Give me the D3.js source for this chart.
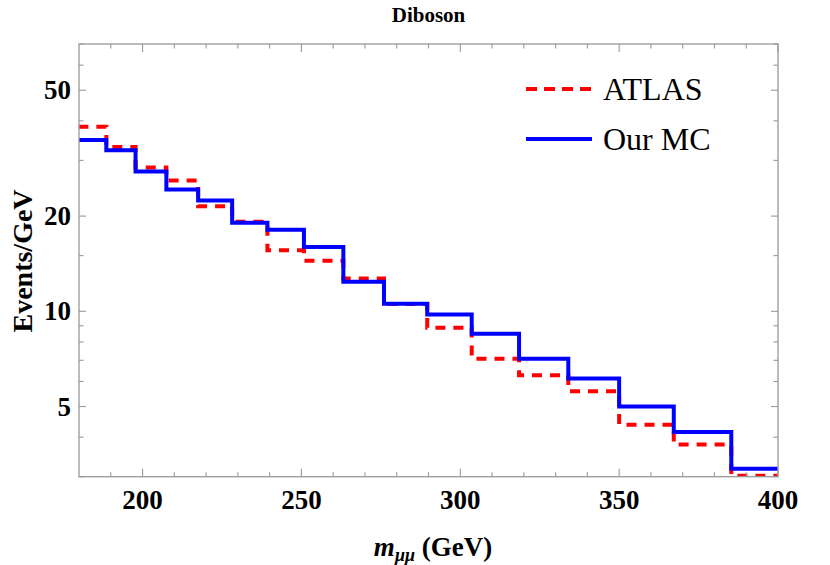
<!DOCTYPE html>
<html>
<head>
<meta charset="utf-8">
<script src="https://cdn.jsdelivr.net/npm/d3@7"></script>
<style>
  body { margin: 0; background: #fff; }
  text { font-family: "Liberation Serif", "Times New Roman", serif; }
</style>
</head>
<body>
<svg id="chart" width="830" height="565"></svg>
<script>
// bin edges (GeV) and contents (Events/GeV)
const binEdges = [179.8, 188.6, 197.8, 207.5, 217.5, 228.2, 239.3, 250.8, 263.2, 276.0, 289.6, 303.6, 318.5, 334.0, 350.0, 367.2, 385.3, 404.1];
const atlasValues = [38.3, 33.1, 28.5, 25.9, 21.5, 19.2, 15.6, 14.45, 12.7, 10.55, 8.87, 7.08, 6.28, 5.59, 4.38, 3.79, 3.02];
const mcValues = [34.8, 32.3, 27.65, 24.25, 22.4, 19.07, 18.1, 15.96, 12.4, 10.57, 9.77, 8.49, 7.08, 6.13, 5.0, 4.15, 3.18];

const xTicksMajor = [200, 250, 300, 350, 400];
const xTicksMinor = [190, 210, 220, 230, 240, 260, 270, 280, 290, 310, 320, 330, 340, 360, 370, 380, 390];
const yTicksMajor = [5, 10, 20, 50];
const yTicksMinor = [3, 4, 6, 7, 8, 9, 15, 30, 40, 60, 70];

const seriesNames = ['ATLAS', 'Our MC'];
const title = 'Diboson';

const svg = d3.select('#chart');
const frame = { left: 79, right: 778, top: 44, bottom: 476.7 };

const x = d3.scaleLinear().domain([180, 400]).range([frame.left, frame.right]);
const y = d3.scaleLog().domain([3, 70]).range([frame.bottom, frame.top]);

svg.append('defs').append('clipPath').attr('id', 'clip')
  .append('rect')
  .attr('x', frame.left).attr('y', frame.top)
  .attr('width', frame.right - frame.left).attr('height', frame.bottom - frame.top);

// step lines
function stepPoints(values) {
  const pts = values.map((v, i) => [binEdges[i], v]);
  pts.push([binEdges[values.length], values[values.length - 1]]);
  return pts;
}
const line = d3.line().x(d => x(d[0])).y(d => y(d[1])).curve(d3.curveStepAfter);

const plot = svg.append('g').attr('clip-path', 'url(#clip)');
plot.append('path')
  .attr('d', line(stepPoints(atlasValues)))
  .attr('fill', 'none').attr('stroke', '#ff0000').attr('stroke-width', 4)
  .attr('stroke-dasharray', '10,8');
plot.append('path')
  .attr('d', line(stepPoints(mcValues)))
  .attr('fill', 'none').attr('stroke', '#0000ff').attr('stroke-width', 4);

// frame + ticks
const gray = '#999999';
svg.append('rect')
  .attr('x', frame.left).attr('y', frame.top)
  .attr('width', frame.right - frame.left).attr('height', frame.bottom - frame.top)
  .attr('fill', 'none').attr('stroke', gray).attr('stroke-width', 1.3);

const ticks = svg.append('g').attr('stroke', gray).attr('stroke-width', 1.1);
function xTick(v, len) {
  ticks.append('line').attr('x1', x(v)).attr('x2', x(v)).attr('y1', frame.bottom).attr('y2', frame.bottom - len);
  ticks.append('line').attr('x1', x(v)).attr('x2', x(v)).attr('y1', frame.top).attr('y2', frame.top + len);
}
function yTick(v, len) {
  ticks.append('line').attr('y1', y(v)).attr('y2', y(v)).attr('x1', frame.left).attr('x2', frame.left + len);
  ticks.append('line').attr('y1', y(v)).attr('y2', y(v)).attr('x1', frame.right).attr('x2', frame.right - len);
}
xTicksMajor.forEach(v => xTick(v, 8));
xTicksMinor.forEach(v => xTick(v, 4.5));
yTicksMajor.forEach(v => yTick(v, 7));
yTicksMinor.forEach(v => yTick(v, 4.5));

// tick labels
svg.append('g').selectAll('text').data(xTicksMajor).enter().append('text')
  .attr('x', d => x(d)).attr('y', 509)
  .attr('text-anchor', 'middle')
  .style('font-size', '27px').style('font-weight', 'bold')
  .text(d => d);
svg.append('g').selectAll('text').data(yTicksMajor).enter().append('text')
  .attr('x', 71).attr('y', d => y(d) + 9)
  .attr('text-anchor', 'end')
  .style('font-size', '27px').style('font-weight', 'bold')
  .text(d => d);

// title
svg.append('text')
  .attr('x', (frame.left + frame.right) / 2).attr('y', 22)
  .attr('text-anchor', 'middle')
  .style('font-size', '21px').style('font-weight', 'bold')
  .text(title);

// axis labels
svg.append('text')
  .attr('transform', 'translate(32,261) rotate(-90)')
  .attr('text-anchor', 'middle')
  .style('font-size', '28px').style('font-weight', 'bold')
  .text('Events/GeV');

const xl = svg.append('text')
  .attr('x', 433).attr('y', 556)
  .attr('text-anchor', 'middle')
  .style('font-size', '27px').style('font-weight', 'bold');
xl.append('tspan').style('font-style', 'italic').text('m');
xl.append('tspan').style('font-style', 'italic').style('font-size', '18px').attr('dy', 5).text('μμ');
xl.append('tspan').attr('dy', -5).text(' (GeV)');

// legend
const legend = svg.append('g');
const legendRows = [
  { name: seriesNames[0], color: '#ff0000', dash: '11,7', y: 89 },
  { name: seriesNames[1], color: '#0000ff', dash: null, y: 139 }
];
legendRows.forEach(r => {
  legend.append('line')
    .attr('x1', 526).attr('x2', 592).attr('y1', r.y).attr('y2', r.y)
    .attr('stroke', r.color).attr('stroke-width', 4)
    .attr('stroke-dasharray', r.dash);
  legend.append('text')
    .attr('x', 603).attr('y', r.y + 11)
    .style('font-size', '32px')
    .text(r.name);
});
</script>
</body>
</html>
